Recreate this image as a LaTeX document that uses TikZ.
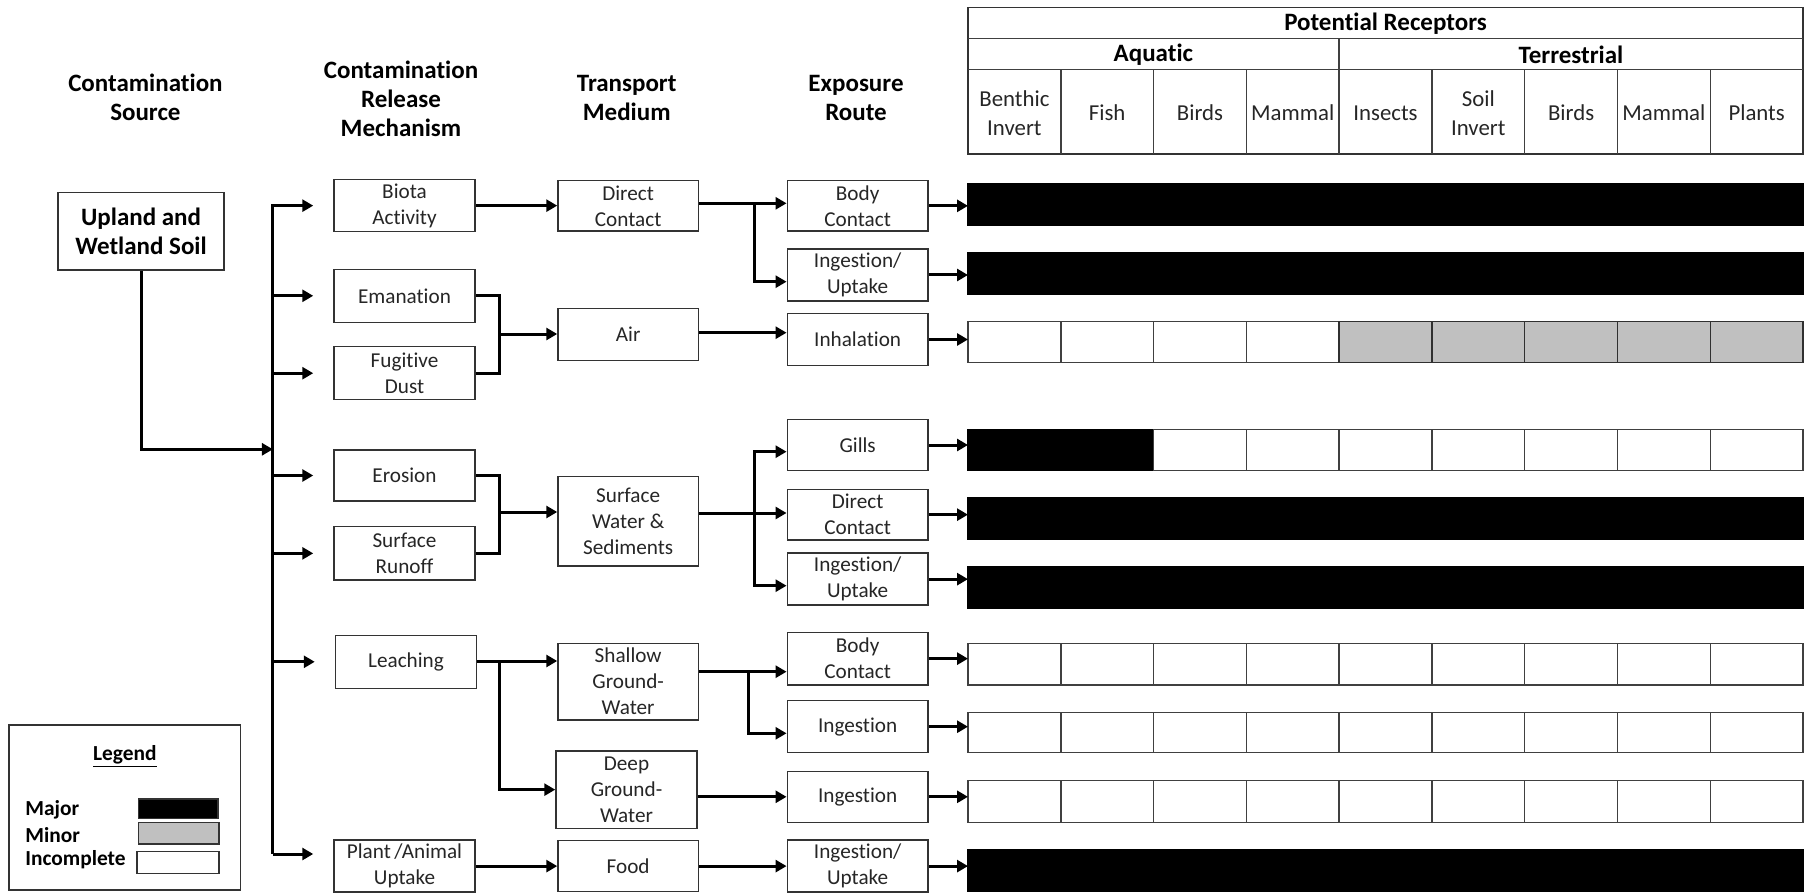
\documentclass[tikz,border=0pt]{standalone}
\usepackage{fontspec}
\setmainfont{Carlito}[Ligatures=NoCommon]
\usetikzlibrary{arrows.meta}
\definecolor{cgray}{HTML}{C0C0C0}
\newcommand\hfnt{\fontsize{12.5}{14.5}\selectfont\bfseries}
\newcommand\bfnt{\fontsize{10.6}{13}\selectfont}
\newcommand\tfnt{\fontsize{11.4}{14.5}\selectfont}
\newcommand\lfnt{\fontsize{10.7}{12.75}\selectfont\bfseries}
\tikzset{
  box/.style={draw=black!80, line width=0.75pt, fill=white, inner sep=2pt, align=center, font=\bfnt, text=black!85},
  conn/.style={line width=1.5pt, -{Triangle[length=5.5pt,width=6pt]}},
  plain/.style={line width=1.5pt},
  head/.style={font=\hfnt, align=center, inner sep=0pt},
  cell/.style={draw=black!75, line width=0.75pt},
  tlabel/.style={font=\tfnt, align=center, inner sep=0pt, text=black!85},
}
% #1 options, #2 name, #3 x1, #4 y1, #5 x2, #6 y2, #7 text
\newcommand\pbox[7][]{%
  \pgfmathsetmacro\pbW{(#5-#3)*0.5}%
  \pgfmathsetmacro\pbH{(#6-#4)*0.5}%
  \pgfmathsetmacro\pbX{(#3+#5)/2}%
  \pgfmathsetmacro\pbY{(#4+#6)/2}%
  \node[box, minimum width=\pbW pt, minimum height=\pbH pt, #1] (#2) at (\pbX,\pbY) {#7};}
% #1 name, #2 top, #3 bottom, #4 colours
\newcommand\cellrow[4]{%
  \pgfmathsetmacro\crY{(#2+#3)/2}%
  \coordinate (#1) at (968,\crY);
  \foreach \cc [count=\ii from 0] in {#4} {
    \draw[cell, fill=\cc, draw=black!75!\cc] ({968+92.78*\ii},#2) rectangle ({968+92.78*(\ii+1)},#3);
  }}
\begin{document}
\begin{tikzpicture}[x=0.5pt, y=-0.5pt]
\useasboundingbox (0,0) rectangle (1804,893);

% column headers
\node[head] (hsrc) at (145.4,97.8) {Contamination\\Source};
\node[head] (hrel) at (401,99) {Contamination\\Release\\Mechanism};
\node[head] (htra) at (626.7,97.8) {Transport\\Medium};
\node[head] (hexp) at (856,97.8) {Exposure\\Route};

% source
\pbox[font=\hfnt, text=black]{upland}{58.2}{192.3}{223.9}{270}{Upland and\\Wetland Soil}

% release mechanisms
\pbox{biota}{334}{180}{475}{231.3}{Biota\\Activity}
\pbox{eman}{334}{269.3}{475}{322.3}{Emanation}
\pbox{fug}{334}{346.7}{475}{399.7}{Fugitive\\Dust}
\pbox{eros}{334}{450}{475}{501}{Erosion}
\pbox{runoff}{334}{526.7}{475}{580}{Surface\\Runoff}
\pbox{leach}{335.5}{635.3}{476.5}{688.3}{Leaching}
\pbox{plant}{334}{840.7}{475}{891.5}{Plant\,/Animal\\Uptake}

% transport media
\pbox{dc}{558}{180.7}{698.3}{231}{Direct\\Contact}
\pbox{air}{558}{308.3}{698.3}{360.7}{Air}
\pbox{sw}{558}{476.7}{698.3}{566}{Surface\\Water \&\\Sediments}
\pbox{shallow}{558}{643.3}{698.3}{720}{Shallow\\Ground-\\Water}
\pbox{deep}{556}{751}{697}{828.3}{Deep\\Ground-\\Water}
\pbox{food}{558}{840.7}{698.3}{891.5}{Food}

% exposure routes
\pbox{bc1}{787.3}{180.7}{928}{231}{Body\\Contact}
\pbox{iu1}{787.3}{249.3}{928}{300.7}{Ingestion/\\Uptake}
\pbox{inh}{787.3}{313.3}{928}{365.7}{Inhalation}
\pbox{gills}{787.3}{419.3}{928}{470.7}{Gills}
\pbox{dc2}{787.3}{489.3}{928}{540}{Direct\\Contact}
\pbox{iu2}{787.3}{554}{928}{604.3}{Ingestion/\\Uptake}
\pbox{bc2}{787.3}{632.3}{928}{685}{Body\\Contact}
\pbox{ing1}{787.3}{700.7}{928}{752.7}{Ingestion}
\pbox{ing2}{787.3}{771.3}{928}{822.3}{Ingestion}
\pbox{iu3}{787.3}{840.7}{928}{891.5}{Ingestion/\\Uptake}

% receptor table header
\pbox[line width=0.75pt]{tab}{968}{7.3}{1803}{154}{}
\draw[cell] (968,38.3) -- (1803,38.3);
\draw[cell] (968,69.3) -- (1803,69.3);
\draw[cell] (1338.8,38.3) -- (1338.8,154);
\foreach \k in {1,...,8} {\draw[cell] ({968+92.78*\k},69.3) -- ({968+92.78*\k},154);}
\node[head] (tpr) at (1385.5,23.5) {Potential Receptors};
\node[head] (taq) at (1153.4,54.5) {Aquatic};
\node[head] (tte) at (1571,54.5) {Terrestrial};
\foreach \lab [count=\ii from 0] in {Benthic\\Invert, Fish, Birds, Mammal, Insects, Soil\\Invert, Birds, Mammal, Plants} {
  \node[tlabel] (col\ii) at ({968+92.78*(\ii+0.5)},113) {\lab};
}

% receptor rows
\cellrow{r1}{183.3}{225}{black,black,black,black,black,black,black,black,black}
\cellrow{r2}{252.7}{294.3}{black,black,black,black,black,black,black,black,black}
\cellrow{r3}{321.7}{362.3}{white,white,white,white,cgray,cgray,cgray,cgray,cgray}
\cellrow{r4}{429.3}{470.7}{black,black,white,white,white,white,white,white,white}
\cellrow{r5}{497.7}{539.3}{black,black,black,black,black,black,black,black,black}
\cellrow{r6}{566.7}{608.3}{black,black,black,black,black,black,black,black,black}
\cellrow{r7}{643.3}{685}{white,white,white,white,white,white,white,white,white}
\cellrow{r8}{712.3}{752.7}{white,white,white,white,white,white,white,white,white}
\cellrow{r9}{780.7}{822.7}{white,white,white,white,white,white,white,white,white}
\cellrow{r10}{849.3}{891.7}{black,black,black,black,black,black,black,black,black}

% bus from source
\coordinate (busT) at (272.9,204.3);
\coordinate (busB) at (272.9,854);
\coordinate (busJ) at (272.9,449.3);
\draw[plain] (busT) -- (busB);
\draw[conn] (upland.south) |- (busJ);
\foreach \n in {biota, eman, fug, eros, runoff, leach} {
  \draw[conn, shorten >=10pt] (busT |- \n.west) -- (\n.west);
}
\draw[conn, shorten >=10pt] (busB) -- (busB -| plant.west);

% release -> transport
\coordinate (j1) at (499.4,334);
\coordinate (j2) at (499.4,512);
\coordinate (j3) at (499.4,661);
\draw[conn] (biota.east) -- (biota.east -| dc.west);
\draw[plain] (eman.east) -| (j1 |- fug.east) -- (fug.east);
\draw[conn] (j1) -- (j1 -| air.west);
\draw[plain] (eros.east) -| (j2 |- runoff.east) -- (runoff.east);
\draw[conn] (j2) -- (j2 -| sw.west);
\draw[conn] (leach.east |- j3) -- (j3 -| shallow.west);
\draw[conn] (j3) |- (deep.west);
\draw[conn] (plant.east) -- (plant.east -| food.west);

% transport -> exposure
\coordinate (k1) at (754,203.3);
\coordinate (k1b) at (754,281.7);
\draw[conn] (dc.east |- k1) -- (k1 -| bc1.west);
\draw[conn] (k1) |- (k1b -| iu1.west);
\draw[conn] (air.east |- 0,332.7) -- (inh.west |- 0,332.7);
\coordinate (j4) at (754,513);
\coordinate (k2a) at (754,451.7);
\coordinate (k2b) at (754,585.7);
\draw[conn] (sw.east |- j4) -- (j4 -| dc2.west);
\draw[conn] (j4) |- (k2a -| gills.west);
\draw[conn] (j4) |- (k2b -| iu2.west);
\coordinate (k3) at (748.3,671.7);
\coordinate (k3b) at (748.3,733.3);
\draw[conn] (shallow.east |- k3) -- (k3 -| bc2.west);
\draw[conn] (k3) |- (k3b -| ing1.west);
\draw[conn] (deep.east |- ing2.west) -- (ing2.west);
\draw[conn] (food.east) -- (food.east -| iu3.west);

% exposure -> receptors
\draw[conn] (bc1.east) -- (bc1.east -| r1);
\draw[conn] (iu1.east) -- (iu1.east -| r2);
\draw[conn] (inh.east) -- (inh.east -| r3);
\draw[conn] (gills.east) -- (gills.east -| r4);
\draw[conn] (dc2.east) -- (dc2.east -| r5);
\draw[conn] (iu2.east) -- (iu2.east -| r6);
\draw[conn] (bc2.east) -- (bc2.east -| r7);
\draw[conn] (ing1.east) -- (ing1.east -| r8);
\draw[conn] (ing2.east) -- (ing2.east -| r9);
\draw[conn] (iu3.east) -- (iu3.east -| r10);

% legend
\pbox{legend}{8.8}{725}{240.7}{890}{}
\node[font=\lfnt, inner sep=0pt] (legt) at (124.8,756.7) {\underline{Legend}};
\node[font=\lfnt, anchor=west, inner sep=0pt] (lmaj) at (24.9,809.3) {Major};
\node[font=\lfnt, anchor=west, inner sep=0pt] (lmin) at (24.9,835) {Minor};
\node[font=\lfnt, anchor=west, inner sep=0pt] (linc) at (24.9,859.3) {Incomplete};
\pbox[fill=black]{swmaj}{138.5}{799}{218}{818.3}{}
\pbox[fill=cgray]{swmin}{138.5}{822.3}{219}{844}{}
\pbox[fill=white]{swinc}{137}{851.7}{219}{873.3}{}
\end{tikzpicture}
\end{document}
